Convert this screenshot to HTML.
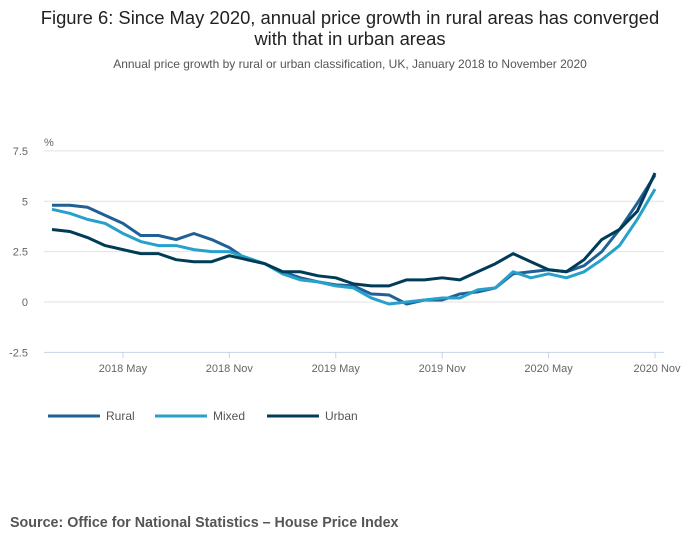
<!DOCTYPE html>
<html><head><meta charset="utf-8"><style>
body{margin:0;width:700px;height:549px;background:#fff;font-family:"Liberation Sans",sans-serif;overflow:hidden}
</style></head><body>
<svg width="700" height="549" id="c">
<text x="350" y="24" text-anchor="middle" font-size="18.4" fill="#222">Figure 6: Since May 2020, annual price growth in rural areas has converged</text>
<text x="350" y="45" text-anchor="middle" font-size="18.4" fill="#222">with that in urban areas</text>
<text x="350" y="68" text-anchor="middle" font-size="12" fill="#555">Annual price growth by rural or urban classification, UK, January 2018 to November 2020</text>
<text x="44" y="146" font-size="11" fill="#666">%</text>
<g id="grid"></g><g id="lines"></g>
<g>
<line x1="48" y1="416" x2="100" y2="416" stroke="#206095" stroke-width="3"/>
<text x="106" y="420" font-size="12" fill="#555">Rural</text>
<line x1="155" y1="416" x2="207" y2="416" stroke="#27a0cc" stroke-width="3"/>
<text x="213" y="420" font-size="12" fill="#555">Mixed</text>
<line x1="267" y1="416" x2="319" y2="416" stroke="#003c57" stroke-width="3"/>
<text x="325" y="420" font-size="12" fill="#555">Urban</text>
</g>
<text x="10" y="527" font-size="14.3" font-weight="bold" fill="#555">Source: Office for National Statistics – House Price Index</text>
</svg>
<script>
const yTicks=[7.5,5,2.5,0,-2.5];
const yTickLabels=["7.5","5","2.5","0","-2.5"];
const xTickIdx=[4,10,16,22,28,34];
const xTickLabels=["2018 May","2018 Nov","2019 May","2019 Nov","2020 May","2020 Nov"];
const rural=[4.8,4.8,4.7,4.3,3.9,3.3,3.3,3.1,3.4,3.1,2.7,2.1,1.9,1.5,1.2,1.0,0.85,0.8,0.4,0.35,-0.1,0.1,0.1,0.4,0.5,0.7,1.4,1.5,1.6,1.5,1.8,2.5,3.6,4.9,6.3];
const mixed=[4.6,4.4,4.1,3.9,3.4,3.0,2.8,2.8,2.6,2.5,2.5,2.2,1.9,1.4,1.1,1.0,0.8,0.7,0.2,-0.1,0.0,0.1,0.2,0.2,0.6,0.7,1.5,1.2,1.4,1.2,1.5,2.1,2.8,4.1,5.6];
const urban=[3.6,3.5,3.2,2.8,2.6,2.4,2.4,2.1,2.0,2.0,2.3,2.1,1.9,1.5,1.5,1.3,1.2,0.9,0.8,0.8,1.1,1.1,1.2,1.1,1.5,1.9,2.4,2.0,1.6,1.5,2.1,3.1,3.6,4.5,6.4];
const NS="http://www.w3.org/2000/svg";
const X=i=>52+i*(655-52)/34;
const Y=v=>302-v*20.15;
const grid=document.getElementById('grid'),lines=document.getElementById('lines');
function mk(t,a,p){const e=document.createElementNS(NS,t);for(const k in a)e.setAttribute(k,a[k]);p.appendChild(e);return e;}
yTicks.forEach((v,i)=>{
 const l=mk('line',{x1:44,x2:664,y1:Y(v),y2:Y(v),stroke:v===-2.5?'#c6d4e8':'#e2e2e2','stroke-width':1},grid);
 
 
 const t=mk('text',{x:28,y:Y(v)+4,'font-size':11,fill:'#666','text-anchor':'end'},grid);
 t.textContent=yTickLabels[i];
 
 
});
xTickIdx.forEach((d,i)=>{
 const l=mk('line',{x1:X(d),x2:X(d),y1:Y(-2.5),y2:Y(-2.5)+6,stroke:'#c6d4e8'},grid);
 
 
 const t=mk('text',{x:X(d),y:372,'font-size':11,fill:'#666','text-anchor':'middle'},grid);
 if(i===xTickLabels.length-1)t.setAttribute('x',X(d)+2);
 t.textContent=xTickLabels[i];
 
 
});
[[rural,'#206095','rural-line'],[mixed,'#27a0cc','mixed-line'],[urban,'#003c57','urban-line']].forEach(s=>{
 const p=mk('polyline',{points:s[0].map((v,i)=>X(i)+','+Y(v)).join(' '),fill:'none',stroke:s[1],'stroke-width':3,'stroke-linejoin':'round'},lines);
 
 
});
</script>
</body></html>
